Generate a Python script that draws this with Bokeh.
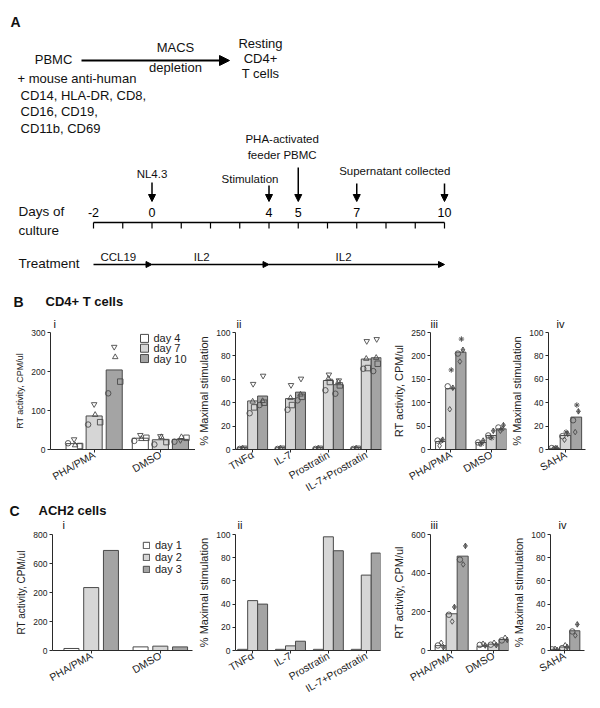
import math
from bokeh.plotting import figure
from bokeh.layouts import column, row
from bokeh.models import (Range1d, FixedTicker, Legend, LegendItem, Arrow,
                          NormalHead, ColumnDataSource)
from bokeh.core.properties import value
from bokeh.embed import file_html
from bokeh.resources import INLINE

FONT = "Liberation Sans"
EDGE = "#4a4a4a"
PTC = "#4a4a4a"
AXC = "#2a2a2a"
FILLS = ["#ffffff", "#d6d6d6", "#a4a4a4"]

# ---------------- Panel A data ----------------
timeline_days = list(range(-2, 11))
labelled_days = [-2, 0, 4, 5, 7, 10]
event_days = [0, 4, 5, 7, 10]
phase_start = [-2, 0, 4]
phase_end = [0, 4, 10]
phase_names = ["CCL19", "IL2", "IL2"]
antibody_lines = ["+ mouse anti-human", "CD14, HLA-DR, CD8,", "CD16, CD19,", "CD11b, CD69"]

# ---------------- Panel B data (CD4+ T cells) ----------------
bi_cats = ["PHA/PMA", "DMSO"]
b_days = ["day 4", "day 7", "day 10"]
bi_bars = {"day 4": [15, 29], "day 7": [86, 25], "day 10": [204, 26]}
bi_markers = ["circle", "square", "triangle", "inverted_triangle"]
bi_pts = {"day 4": [[16, 9, 11, 26], [22, 30, 27, 37]],
          "day 7": [[64, 70, 89, 116], [13, 19, 32, 34]],
          "day 10": [[144, 174, 237, 263], [20, 30, 32, 24]]}
bi_yticks = [0, 100, 200, 300]

bii_cats = ["TNFα", "IL-7", "Prostratin", "IL-7+Prostratin"]
bii_bars = {"day 4": [1.5, 1.5, 1.5, 1.5],
            "day 7": [41.5, 43.5, 59, 77.3],
            "day 10": [45.7, 49, 55.4, 78.4]}
bii_pts = {"day 4": [[0.5, 0.6, 0.8, 0.6], [0.5, 0.6, 0.8, 0.6], [0.5, 0.6, 0.8, 0.6], [0.5, 0.6, 0.8, 0.6]],
           "day 7": [[31, 36, 41, 56], [34, 38, 44, 55], [50.6, 57.7, 60.5, 64], [69, 69.6, 77.6, 92.6]],
           "day 10": [[38, 40, 41.5, 63], [42, 45, 47, 60.5], [47.7, 54.8, 57.7, 59], [67, 73.3, 78.4, 94.3]]}
pct_yticks = [0, 20, 40, 60, 80, 100]

biii_cats = ["PHA/PMA", "DMSO"]
biii_markers = ["circle", "diamond_cross", "diamond", "asterisk"]
biii_bars = {"day 4": [17, 15], "day 7": [130, 30], "day 10": [208, 44]}
biii_pts = {"day 4": [[19, 21, 8, 18], [15, 19, 12, 12]],
            "day 7": [[135, 132, 86, 170], [30, 40, 26, 25]],
            "day 10": [[205, 213, 188, 236], [47, 52, 40, 44]]}
biii_yticks = [0, 50, 100, 150, 200, 250]

biv_cats = ["SAHA"]
biv_bars = {"day 4": [1], "day 7": [12], "day 10": [27.7]}
biv_pts = {"day 4": [[1.2, 1.0, 0.8, 1.5]],
           "day 7": [[11.4, 13.4, 8.3, 14.9]],
           "day 10": [[25, 32.6, 14.9, 38]]}

# ---------------- Panel C data (ACH2 cells) ----------------
c_days = ["day 1", "day 2", "day 3"]
ci_cats = ["PHA/PMA", "DMSO"]
ci_bars = {"day 1": [14, 25], "day 2": [434, 30], "day 3": [690, 25]}
ci_yticks = [0, 200, 400, 600, 800]
ci_ytick_labels = ["0", "200", "200", "600", "800"]

cii_cats = ["TNFα", "IL-7", "Prostratin", "IL-7+Prostratin"]
cii_bars = {"day 1": [1, 1, 1, 1], "day 2": [43, 4, 98, 65], "day 3": [40, 8, 86, 84]}

ciii_cats = ["PHA/PMA", "DMSO"]
ciii_markers = ["circle", "diamond", "diamond_cross"]
ciii_bars = {"day 1": [25, 22], "day 2": [190, 33], "day 3": [488, 57]}
ciii_pts = {"day 1": [[26, 40, 17], [29, 35, 26]],
            "day 2": [[185, 150, 225], [30, 40, 28]],
            "day 3": [[470, 445, 541], [52, 66, 55]]}
ciii_yticks = [0, 200, 400, 600]

civ_cats = ["SAHA"]
civ_bars = {"day 1": [1], "day 2": [3], "day 3": [17]}
civ_pts = {"day 1": [[1, 1.5, 0.5]], "day 2": [[2, 4.5, 3]], "day 3": [[16.4, 13, 22.5]]}

W = 600


def blank(height, top):
    f = figure(width=W, height=height, x_range=Range1d(0, W), y_range=Range1d(top + height, top),
               output_backend="svg", toolbar_location=None,
               min_border_left=0, min_border_right=0, min_border_top=0, min_border_bottom=0,
               x_axis_location=None, y_axis_location=None)
    f.grid.visible = False
    f.outline_line_color = None
    return f


def txt(fig, x, y, t, size, align="left", bold=False, rng="default"):
    fig.text(x=[x], y=[y], text=[t], text_font=value(FONT), text_font_size=size,
             text_align=align, text_baseline="middle", text_color="#111111",
             text_font_style="bold" if bold else "normal", x_range_name=rng)


# ======================= Panel A =======================
pa = blank(288, 0)
DAY_PX = 29.25
day_start = -2 - 93 / DAY_PX
pa.extra_x_ranges = {"days": Range1d(day_start, day_start + W / DAY_PX)}

txt(pa, 10, 21, "A", "14px", bold=True)
txt(pa, 53, 59, "PBMC", "13px", align="center")
txt(pa, 175, 47, "MACS", "13px", align="center")
txt(pa, 175, 67, "depletion", "13px", align="center")
for i, t in enumerate(["Resting", "CD4+", "T cells"]):
    txt(pa, 260, 43 + 15 * i, t, "13px", align="center")
for i, t in enumerate(antibody_lines):
    txt(pa, 17 if i == 0 else 20, 78 + 17 * i - (1 if i > 1 else 0), t, "13px")
pa.add_layout(Arrow(x_start=81, y_start=60, x_end=229, y_end=60, line_width=2,
                    line_color="black", end=NormalHead(size=10, fill_color="black", line_color="black")))

# timeline
pa.line(x=[timeline_days[0], timeline_days[-1]], y=[222, 222], line_color="black",
        line_width=1.3, x_range_name="days")
pa.segment(x0=timeline_days, y0=[222] * len(timeline_days), x1=timeline_days,
           y1=[228] * len(timeline_days), line_color="black", line_width=1.2, x_range_name="days")
pa.text(x=labelled_days, y=[212] * len(labelled_days), text=[str(d) for d in labelled_days],
        text_font=value(FONT), text_font_size="12.5px", text_align="center",
        text_baseline="middle", x_range_name="days")
txt(pa, 18, 211, "Days of", "13.5px")
txt(pa, 18, 230, "culture", "13.5px")
arrow_tops = [182, 185, 167, 183, 183]
ev_src = ColumnDataSource(dict(x=event_days, y0=arrow_tops, y1=[201] * len(event_days)))
pa.add_layout(Arrow(x_start="x", y_start="y0", x_end="x", y_end="y1", source=ev_src,
                    x_range_name="days", line_width=1.5, line_color="black",
                    end=NormalHead(size=7, fill_color="black", line_color="black")))
txt(pa, event_days[0], 173, "NL4.3", "11.5px", align="center", rng="days")
txt(pa, event_days[1] - 0.65, 178, "Stimulation", "11.5px", align="center", rng="days")
txt(pa, event_days[2] - 0.55, 138, "PHA-activated", "11.5px", align="center", rng="days")
txt(pa, event_days[2] - 0.55, 154, "feeder PBMC", "11.5px", align="center", rng="days")
txt(pa, (event_days[3] + event_days[4]) / 2 - 0.2, 170, "Supernatant collected", "11.5px",
    align="center", rng="days")

# treatment
txt(pa, 18, 263, "Treatment", "13.5px")
tr_src = ColumnDataSource(dict(x0=phase_start, x1=phase_end, y=[264] * 3))
pa.add_layout(Arrow(x_start="x0", y_start="y", x_end="x1", y_end="y", source=tr_src,
                    x_range_name="days", line_width=1.3, line_color="black",
                    end=NormalHead(size=6, fill_color="black", line_color="black")))
for s, e, n in zip(phase_start, phase_end, phase_names):
    txt(pa, (s + e) / 2 - 0.15 * (e - s) / 2, 256, n, "11.5px", align="center", rng="days")


# ======================= bar panels =======================
def bar_panel(cats, days, bars, pts, markers, offsets, *, fig_x, fig_y, width, height,
              mbl, mbr, mbt, mbb, xr, yr, yticks, group, step, bar_w, ylabel, ylabel_size,
              ytick_labels=None, legend_at=None, manual_legend=None, msize=5.5):
    p = figure(width=width, height=height, x_range=Range1d(*xr), y_range=Range1d(*yr),
               min_border_left=mbl, min_border_right=mbr, min_border_top=mbt,
               min_border_bottom=mbb, output_backend="svg", toolbar_location=None)
    p.grid.visible = False
    p.outline_line_color = None
    centers = [g * group for g in range(len(cats))]
    rends = []
    for d, day in enumerate(days):
        xs = [c + (d - 1) * step for c in centers]
        r = p.vbar(x=xs, top=bars[day], bottom=0, width=bar_w, fill_color=FILLS[d],
                   line_color=EDGE, line_width=1)
        rends.append(r)
    if pts is not None:
        for d, day in enumerate(days):
            xs = [c + (d - 1) * step for c in centers]
            for k, m in enumerate(markers):
                px_ = [xs[g] + offsets[k] * step for g in range(len(cats))]
                py_ = [pts[day][g][k] for g in range(len(cats))]
                p.scatter(px_, py_, marker=m, size=msize, fill_color=None,
                          line_color=PTC, line_width=0.9)
    xa = p.xaxis[0]
    xa.ticker = FixedTicker(ticks=centers)
    xa.major_label_overrides = {c: n for c, n in zip(centers, cats)}
    xa.major_label_orientation = math.radians(30)
    xa.major_tick_out = 3
    xa.major_tick_in = 0
    xa.minor_tick_out = 0
    xa.minor_tick_in = 0
    xa.major_label_standoff = 1
    xa.major_label_text_font = FONT
    xa.major_label_text_font_size = "10.5px"
    xa.major_label_text_color = "#222222"
    xa.axis_line_color = AXC
    xa.major_tick_line_color = AXC
    ya = p.yaxis[0]
    ya.ticker = FixedTicker(ticks=yticks)
    if ytick_labels is not None:
        ya.major_label_overrides = {t: s for t, s in zip(yticks, ytick_labels)}
    ya.major_tick_out = 3
    ya.major_tick_in = 0
    ya.minor_tick_out = 0
    ya.minor_tick_in = 0
    ya.major_label_standoff = 2
    ya.major_label_text_font = FONT
    ya.major_label_text_font_size = "8.5px"
    ya.major_label_text_color = "#222222"
    ya.axis_line_color = AXC
    ya.major_tick_line_color = AXC
    ya.axis_label = ylabel
    ya.axis_label_text_font = FONT
    ya.axis_label_text_font_size = ylabel_size
    ya.axis_label_text_font_style = "normal"
    ya.axis_label_text_color = "#222222"
    ya.axis_label_standoff = 3
    fl = fig_x + mbl
    fb = fig_y + height - mbb
    fw = width - mbl - mbr
    fh = height - mbt - mbb
    if legend_at is not None:
        LX, LY = legend_at
        leg = Legend(items=[LegendItem(label=day, renderers=[r]) for day, r in zip(days, rends)],
                     location=(LX - fl, fb - LY), orientation="vertical",
                     glyph_width=8, glyph_height=8, label_height=9, label_standoff=5,
                     spacing=0, padding=0, margin=0, border_line_color=None,
                     background_fill_alpha=0, label_text_font=FONT,
                     label_text_font_size="11px", label_text_color="#222222")
        p.add_layout(leg, "center")
    if manual_legend is not None:
        gx, tx, rows_y = manual_legend

        def dx(px):
            return xr[0] + (px - fl) * (xr[1] - xr[0]) / fw

        def dy(py):
            return yr[0] + (fb - py) * (yr[1] - yr[0]) / fh

        ys = [dy(v) for v in rows_y]
        p.scatter(x=[dx(gx)] * len(days), y=ys, marker="square", size=8,
                  fill_color=FILLS[:len(days)], line_color=EDGE, line_width=1)
        p.text(x=[dx(tx)] * len(days), y=ys, text=days, text_font=value(FONT),
               text_font_size="11px", text_baseline="middle", text_align="left",
               text_color="#222222")
    return p


# ---- row B ----
HB_HEAD_TOP, HB_HEAD = 288, 40
hb = blank(HB_HEAD, HB_HEAD_TOP)
txt(hb, 13, 301, "B", "14px", bold=True)
txt(hb, 45, 301, "CD4+ T cells", "13px", bold=True)
for t, x in zip(["i", "ii", "iii", "iv"], [53, 236, 430, 556]):
    txt(hb, x, 323, t, "11px")

RB_Y, HB = 328, 173
b1 = bar_panel(bi_cats, b_days, bi_bars, bi_pts, bi_markers, [-0.3, 0.3, 0.05, 0.0],
               fig_x=0, fig_y=RB_Y, width=195, height=HB, mbl=50, mbr=0, mbt=4, mbb=50,
               xr=(-21.75, 50.5), yr=(0, 300), yticks=bi_yticks, group=33, step=10, bar_w=8,
               ylabel="RT activity, CPM/ul", ylabel_size="9px",
               manual_legend=(144, 153, [338, 348, 358.5]))
b2 = bar_panel(bii_cats, b_days, bii_bars, bii_pts, bi_markers, [-0.3, 0.15, 0.0, 0.05],
               fig_x=195, fig_y=RB_Y, width=195, height=HB, mbl=32, mbr=9, mbt=4, mbb=50,
               xr=(-17.2, 129.3), yr=(0, 100), yticks=pct_yticks, group=38, step=10, bar_w=10,
               ylabel="% Maximal stimulation", ylabel_size="11px")
b3 = bar_panel(biii_cats, b_days, biii_bars, biii_pts, biii_markers, [-0.3, 0.2, -0.1, 0.05],
               fig_x=390, fig_y=RB_Y, width=118, height=HB, mbl=33, mbr=2, mbt=4, mbb=50,
               xr=(-20, 55), yr=(0, 250), yticks=biii_yticks, group=40, step=10, bar_w=10,
               ylabel="RT activity, CPM/ul", ylabel_size="11px")
b4 = bar_panel(biv_cats, b_days, biv_bars, biv_pts, biii_markers, [-0.3, 0.2, -0.1, 0.05],
               fig_x=508, fig_y=RB_Y, width=92, height=HB, mbl=33, mbr=15, mbt=4, mbb=50,
               xr=(-15.9, 18.6), yr=(0, 100), yticks=pct_yticks, group=40, step=10, bar_w=10,
               ylabel="% Maximal stimulation", ylabel_size="11px")

# ---- row C ----
HC_HEAD_TOP, HC_HEAD = 501, 29
hc = blank(HC_HEAD, HC_HEAD_TOP)
txt(hc, 9, 510, "C", "14px", bold=True)
txt(hc, 38, 510, "ACH2 cells", "13px", bold=True)
for t, x in zip(["i", "ii", "iii", "iv"], [62, 237, 430, 558]):
    txt(hc, x, 524, t, "11px")

RC_Y, HC = 530, 178
c1 = bar_panel(ci_cats, c_days, ci_bars, None, [], [],
               fig_x=0, fig_y=RC_Y, width=195, height=HC, mbl=52, mbr=3, mbt=4, mbb=58,
               xr=(-19.6, 51.3), yr=(0, 800), yticks=ci_yticks, ytick_labels=ci_ytick_labels,
               group=35, step=10, bar_w=7.6,
               ylabel="RT activity, CPM/ul", ylabel_size="10px", legend_at=(142, 575))
c2 = bar_panel(cii_cats, c_days, cii_bars, None, [], [],
               fig_x=195, fig_y=RC_Y, width=195, height=HC, mbl=32, mbr=10, mbt=4, mbb=58,
               xr=(-17.2, 128.3), yr=(0, 100), yticks=pct_yticks, group=38, step=10, bar_w=10,
               ylabel="% Maximal stimulation", ylabel_size="11px")
c3 = bar_panel(ciii_cats, c_days, ciii_bars, ciii_pts, ciii_markers, [-0.25, 0.05, 0.25],
               fig_x=390, fig_y=RC_Y, width=120, height=HC, mbl=33, mbr=2, mbt=4, mbb=58,
               xr=(-19.2, 51.6), yr=(0, 600), yticks=ciii_yticks, group=38, step=10, bar_w=10,
               ylabel="RT activity, CPM/ul", ylabel_size="11px")
c4 = bar_panel(civ_cats, c_days, civ_bars, civ_pts, ciii_markers, [-0.25, 0.05, 0.25],
               fig_x=510, fig_y=RC_Y, width=90, height=HC, mbl=33, mbr=16, mbt=4, mbb=58,
               xr=(-14, 19.6), yr=(0, 100), yticks=pct_yticks, group=40, step=10, bar_w=10,
               ylabel="% Maximal stimulation", ylabel_size="11px")

layout = column(pa, hb, row(b1, b2, b3, b4), hc, row(c1, c2, c3, c4))
open("out.html", "w").write(file_html(layout, INLINE))
